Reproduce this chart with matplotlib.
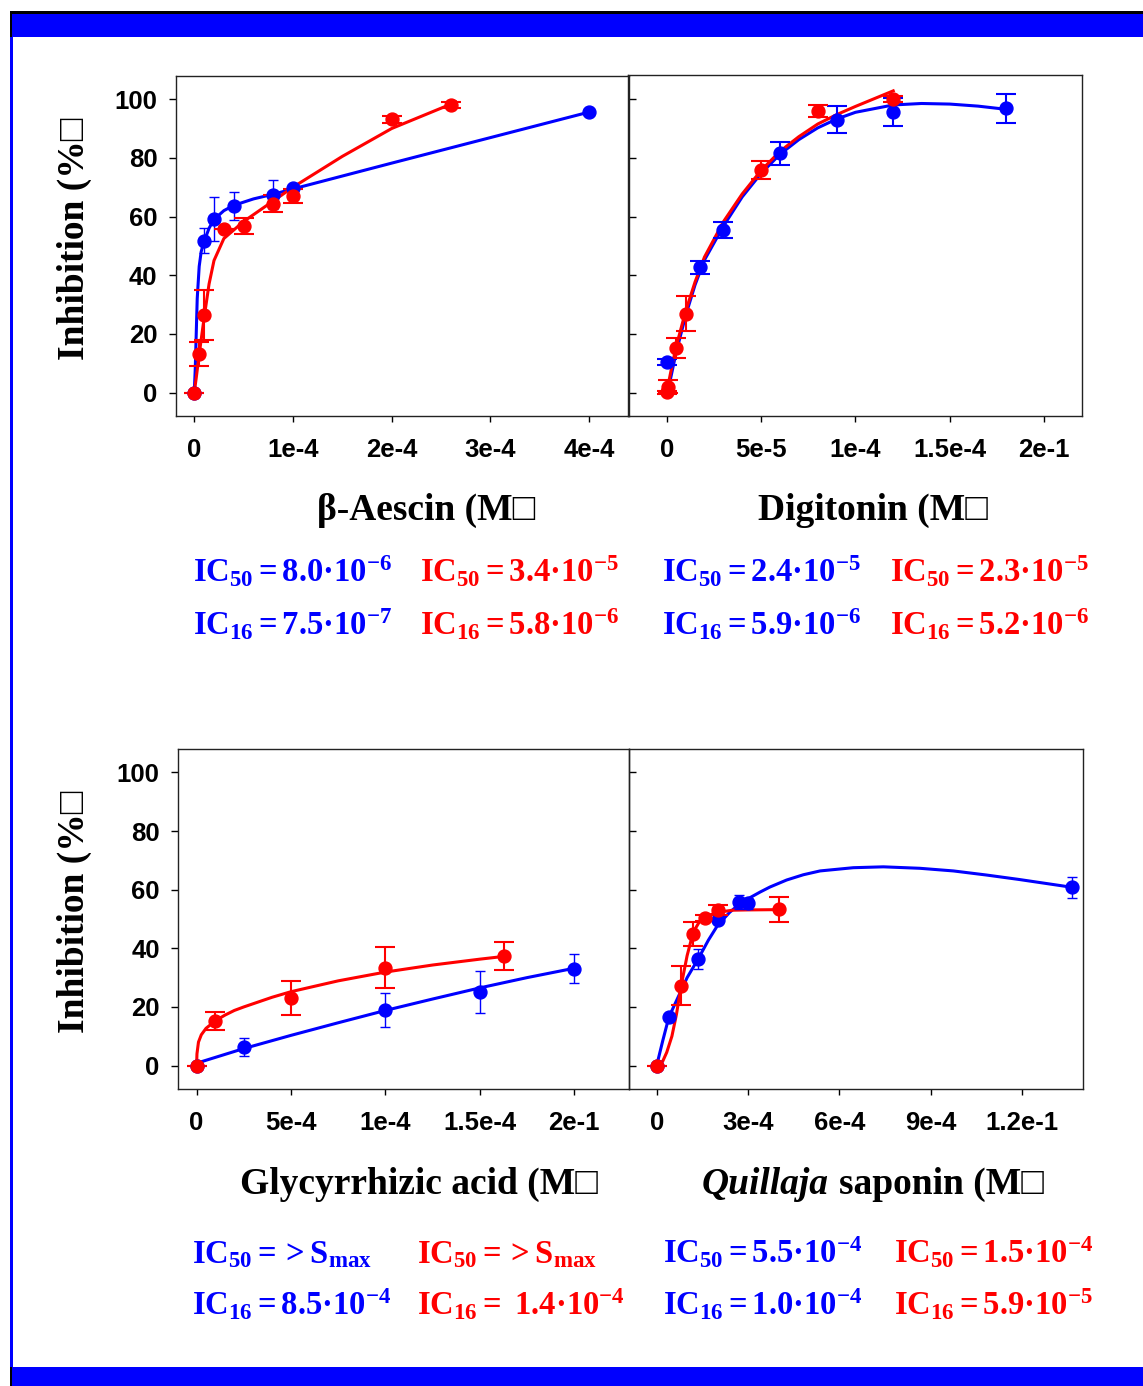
import matplotlib
matplotlib.use("Agg")
import matplotlib.pyplot as plt
from matplotlib.patches import Rectangle

plt.rcParams['mathtext.fontset'] = 'custom'
plt.rcParams['mathtext.rm'] = 'Liberation Serif:bold'
plt.rcParams['mathtext.it'] = 'Liberation Serif:italic:bold'
plt.rcParams['mathtext.bf'] = 'Liberation Serif:bold'
plt.rcParams['mathtext.default'] = 'rm'

BLUE = '#0000FF'
RED = '#FF0000'

# ---------------- data ----------------
# beta-Aescin
aes_blue_x = [0, 1e-5, 2e-5, 4e-5, 8e-5, 1e-4, 4e-4]
aes_blue_y = [0, 51.7, 59.3, 63.6, 67.5, 69.7, 95.6]
aes_blue_err = [0, 4.3, 7.5, 4.7, 4.8, 0, 0]
aes_red_x = [0, 5e-6, 1e-5, 3e-5, 5e-5, 8e-5, 1e-4, 2e-4, 2.6e-4]
aes_red_y = [0, 13.1, 26.3, 55.7, 56.7, 64.4, 66.9, 93.2, 97.9]
aes_red_err = [0, 4.0, 8.5, 0, 2.7, 2.9, 2.4, 1.2, 1.0]
aes_blue_fit_x = [0, 1e-6, 2e-6, 3e-6, 5e-6, 7e-6, 1e-5, 1.5e-5, 2e-5, 3e-5, 4e-5,
                  6e-5, 8e-5, 1e-4, 1.5e-4, 2e-4, 3e-4, 4e-4]
aes_blue_fit_y = [0, 8, 20, 32, 43, 48, 51.5, 56, 59, 62, 63.8,
                  66, 67.6, 69.4, 73.8, 78.2, 86.9, 95.6]
aes_red_fit_x = [0, 2e-6, 5e-6, 1e-5, 1.5e-5, 2e-5, 3e-5, 5e-5, 8e-5, 1e-4,
                 1.5e-4, 2e-4, 2.65e-4]
aes_red_fit_y = [0, 5, 13, 25.5, 37, 45, 52.5, 58.3, 65.3, 70,
                 80.5, 90, 99]

# Digitonin
dig_blue_x = [0, 1.75e-5, 3e-5, 6e-5, 9e-5, 1.2e-4, 1.8e-4]
dig_blue_y = [10.2, 42.6, 55.1, 81.3, 92.8, 95.5, 96.6]
dig_blue_err = [1.0, 2.2, 2.7, 4.0, 4.7, 4.8, 4.9]
dig_red_x = [0, 5e-7, 5e-6, 1e-5, 5e-5, 8e-5, 1.2e-4]
dig_red_y = [0, 1.9, 15.1, 26.7, 75.6, 95.8, 99.8]
dig_red_err = [0.5, 2.3, 3.4, 6.0, 3.0, 2.0, 0.9]
dig_blue_fit_x = [5e-7, 2.5e-6, 5e-6, 1e-5, 1.5e-5, 2e-5, 3e-5, 4e-5, 5e-5, 6e-5,
                  7e-5, 8e-5, 9e-5, 1e-4, 1.2e-4, 1.35e-4, 1.5e-4, 1.65e-4, 1.8e-4]
dig_blue_fit_y = [0, 6, 13.5, 26, 36.5, 45, 56.5, 66.5, 74.5, 81,
                  86, 90, 93, 95.3, 97.8, 98.3, 98.1, 97.4, 96.3]
dig_red_fit_x = [0, 2.5e-6, 5e-6, 1e-5, 1.5e-5, 2e-5, 3e-5, 4e-5, 5e-5, 6e-5,
                 7e-5, 8e-5, 9e-5, 1e-4, 1.2e-4]
dig_red_fit_y = [0, 8, 15.5, 27.5, 37.5, 46, 58, 67.5, 75.5, 82,
                 87, 91.3, 94.5, 97.3, 102.6]

# Glycyrrhizic acid
gly_blue_x = [0, 2.5e-4, 1e-3, 1.5e-3, 2e-3]
gly_blue_y = [0, 6.25, 19.0, 25.0, 33.1]
gly_blue_err = [0, 3.0, 5.8, 7.2, 4.8]
gly_red_x = [0, 1e-4, 5e-4, 1e-3, 1.63e-3]
gly_red_y = [0, 15.2, 23.0, 33.4, 37.4]
gly_red_err = [0, 3.1, 5.9, 7.1, 4.8]
gly_blue_fit_x = [0, 2.5e-4, 5e-4, 7.5e-4, 1e-3, 1.25e-3, 1.5e-3, 1.75e-3, 2e-3]
gly_blue_fit_y = [0.8, 5.8, 10.3, 14.6, 18.8, 22.7, 26.5, 30, 33.2]
gly_red_fit_x = [0, 2e-6, 1e-5, 2.5e-5, 5e-5, 1e-4, 1.5e-4, 2e-4, 2.5e-4, 3e-4,
                 4e-4, 5e-4, 7.5e-4, 1e-3, 1.25e-3, 1.5e-3, 1.65e-3]
gly_red_fit_y = [0, 4, 8, 10.5, 12.7, 15.3, 17.2, 18.8, 20.0, 21.1,
                 23.3, 25.2, 28.9, 31.9, 34.3, 36.3, 37.4]

# Quillaja saponin
qui_blue_x = [0, 4e-5, 1.37e-4, 2e-4, 2.7e-4, 3e-4, 1.366e-3]
qui_blue_y = [0, 16.5, 36.3, 49.7, 55.9, 55.3, 60.8]
qui_blue_err = [0, 0, 3.3, 1.5, 2.4, 2.0, 3.6]
qui_red_x = [0, 8e-5, 1.2e-4, 1.6e-4, 2e-4, 4.02e-4]
qui_red_y = [0, 27.2, 44.9, 50.2, 53.1, 53.3]
qui_red_err = [0, 6.6, 4.0, 1.0, 1.6, 4.3]
qui_blue_fit_x = [0, 2e-5, 4e-5, 8e-5, 1e-4, 1.37e-4, 1.7e-4, 2e-4, 2.4e-4, 2.7e-4,
                  3e-4, 3.4e-4, 3.72e-4, 4.27e-4, 4.82e-4, 5.37e-4, 6.46e-4, 7.45e-4,
                  8.65e-4, 9.75e-4, 1.084e-3, 1.19e-3, 1.366e-3]
qui_blue_fit_y = [0, 8.5, 16.5, 25.5, 30, 36.5, 42.8, 47.8, 52.3, 54.9,
                  56.9, 59.2, 60.9, 63.3, 65.1, 66.4, 67.5, 67.8,
                  67.3, 66.4, 65, 63.5, 60.8]
qui_red_fit_x = [0, 2e-5, 3.3e-5, 5e-5, 6.5e-5, 8e-5, 1e-4, 1.2e-4, 1.4e-4, 1.6e-4,
                 2e-4, 2.5e-4, 3e-4, 4.02e-4]
qui_red_fit_y = [0, 1.5, 4.5, 10, 17.5, 27, 37.5, 45.5, 49, 50.8,
                 52.3, 53, 53.1, 53.2]

# ticks
yticks = [0, 20, 40, 60, 80, 100]
aes_xticks = [0, 1e-4, 2e-4, 3e-4, 4e-4]
aes_xlabels = ['0', '1e-4', '2e-4', '3e-4', '4e-4']
dig_xticks = [0, 5e-5, 1e-4, 1.5e-4, 2e-4]
dig_xlabels = ['0', '5e-5', '1e-4', '1.5e-4', '2e-1']
gly_xticks = [0, 5e-4, 1e-3, 1.5e-3, 2e-3]
gly_xlabels = ['0', '5e-4', '1e-4', '1.5e-4', '2e-1']
qui_xticks = [0, 3e-4, 6e-4, 9e-4, 1.2e-3]
qui_xlabels = ['0', '3e-4', '6e-4', '9e-4', '1.2e-1']

# ---------------- figure ----------------
W, H = 1143, 1386
fig = plt.figure(figsize=(W / 100, H / 100), dpi=100)


def fx(px):
    return px / W


def fy(py):
    return 1 - py / H


def rect_px(x0, y0, x1, y1, color):
    fig.patches.append(Rectangle((fx(x0), fy(y1)), fx(x1) - fx(x0), fy(y0) - fy(y1),
                                 transform=fig.transFigure, facecolor=color,
                                 edgecolor='none', zorder=0))


# frame decorations
rect_px(10, 11, 1143, 13.5, 'black')
rect_px(12, 13.5, 1143, 37, BLUE)
rect_px(10, 11, 12, 37, 'black')
rect_px(10, 37, 13, 1367, BLUE)
rect_px(12, 1367, 1143, 1386, BLUE)
rect_px(10, 1367, 12, 1386, 'black')


def make_ax(l, r, t, b):
    return fig.add_axes([fx(l), fy(b), fx(r) - fx(l), fy(t) - fy(b)])


TICKFONT = dict(family='Liberation Sans', weight='bold', size=18.5)


def style_ax(ax, xlim, xticks, xlabels, left):
    ax.set_xlim(*xlim)
    ax.set_ylim(-8, 108)
    ax.set_xticks(xticks)
    ax.set_xticklabels(xlabels, fontdict=TICKFONT)
    for s in ax.spines.values():
        s.set_linewidth(1.0)
        s.set_color('#222222')
    ax.tick_params(axis='x', direction='out', length=4, width=1, pad=12)
    if left:
        ax.set_yticks(yticks)
        ax.set_yticklabels([str(v) for v in yticks], fontdict=TICKFONT)
        ax.tick_params(axis='y', which='both', left=True, right=True,
                       direction='out', length=5, width=1, pad=8)
        ax.tick_params(axis='y', right=True, direction='in', length=3)
        ax.tick_params(axis='y', left=True, direction='out', length=5)
    else:
        ax.set_yticks([])
    ax.patch.set_alpha(0)


def draw_series(ax, x, y, err, fx_, fy_, color, elw, cap):
    ax.plot(fx_, fy_, color=color, lw=2.2, zorder=3, solid_joinstyle='round')
    ax.errorbar(x, y, yerr=err, fmt='o', color=color, ms=9.3, mec=color,
                elinewidth=elw, capsize=cap, capthick=elw, zorder=4)


axTL = make_ax(175.5, 628.6, 75.7, 416)
axTR = make_ax(628, 1082, 75, 415.7)
axBL = make_ax(177.7, 629, 749, 1089)
axBR = make_ax(629.3, 1082.7, 749, 1089)

# top-left: beta-Aescin
draw_series(axTL, aes_blue_x, aes_blue_y, aes_blue_err, aes_blue_fit_x, aes_blue_fit_y,
            BLUE, 1.0, 3.6)
draw_series(axTL, aes_red_x, aes_red_y, aes_red_err, aes_red_fit_x, aes_red_fit_y,
            RED, 1.5, 7.2)
style_ax(axTL, (-1.9e-5, 4.4e-4), aes_xticks, aes_xlabels, True)

# top-right: Digitonin
draw_series(axTR, dig_blue_x, dig_blue_y, dig_blue_err, dig_blue_fit_x, dig_blue_fit_y,
            BLUE, 1.5, 7.2)
draw_series(axTR, dig_red_x, dig_red_y, dig_red_err, dig_red_fit_x, dig_red_fit_y,
            RED, 1.5, 7.2)
style_ax(axTR, (-2.05e-5, 2.2e-4), dig_xticks, dig_xlabels, False)

# bottom-left: Glycyrrhizic acid
draw_series(axBL, gly_blue_x, gly_blue_y, gly_blue_err, gly_blue_fit_x, gly_blue_fit_y,
            BLUE, 1.0, 3.6)
draw_series(axBL, gly_red_x, gly_red_y, gly_red_err, gly_red_fit_x, gly_red_fit_y,
            RED, 1.5, 7.2)
style_ax(axBL, (-1.0e-4, 2.29e-3), gly_xticks, gly_xlabels, True)

# bottom-right: Quillaja saponin
draw_series(axBR, qui_blue_x, qui_blue_y, qui_blue_err, qui_blue_fit_x, qui_blue_fit_y,
            BLUE, 1.0, 3.6)
draw_series(axBR, qui_red_x, qui_red_y, qui_red_err, qui_red_fit_x, qui_red_fit_y,
            RED, 1.5, 7.2)
style_ax(axBR, (-9e-5, 1.40e-3), qui_xticks, qui_xlabels, False)

# ---------------- texts ----------------
SERIF = ['Liberation Serif', 'DejaVu Serif']
TITLE = dict(family=SERIF, weight='bold', size=27)

# y labels
fig.text(fx(74), fy(239), 'Inhibition (%\u25a1', rotation=90, ha='center', va='center',
         transform=fig.transFigure, **TITLE)
fig.text(fx(74), fy(912), 'Inhibition (%\u25a1', rotation=90, ha='center', va='center',
         transform=fig.transFigure, **TITLE)

# x titles
fig.text(fx(317), fy(520), '\u03b2-Aescin (M\u25a1', ha='left', va='baseline', **TITLE)
fig.text(fx(758), fy(520), 'Digitonin (M\u25a1', ha='left', va='baseline', **TITLE)
fig.text(fx(240), fy(1194), 'Glycyrrhizic acid (M\u25a1', ha='left', va='baseline', **TITLE)
tq = fig.text(fx(702), fy(1194), 'Quillaja', ha='left', va='baseline', family=SERIF,
              weight='bold', style='italic', size=27)
renderer = fig.canvas.get_renderer()
bbq = tq.get_window_extent(renderer=renderer)
fig.text(fx(702 + bbq.width + 10), fy(1194), 'saponin (M\u25a1', ha='left', va='baseline',
         **TITLE)

# IC values
IC = dict(size=23.5, ha='left', va='baseline')
ic_texts = [
    (193, 582, r'$IC_{50} = 8.0·10^{-6}$', BLUE),
    (193, 635, r'$IC_{16} = 7.5·10^{-7}$', BLUE),
    (420, 582, r'$IC_{50} = 3.4·10^{-5}$', RED),
    (420, 635, r'$IC_{16} = 5.8·10^{-6}$', RED),
    (662, 582, r'$IC_{50} = 2.4·10^{-5}$', BLUE),
    (662, 635, r'$IC_{16} = 5.9·10^{-6}$', BLUE),
    (890, 582, r'$IC_{50} = 2.3·10^{-5}$', RED),
    (890, 635, r'$IC_{16} = 5.2·10^{-6}$', RED),
    (192, 1263, r'$IC_{50} = >S_{max}$', BLUE),
    (192, 1315, r'$IC_{16} = 8.5·10^{-4}$', BLUE),
    (417, 1263, r'$IC_{50} = >S_{max}$', RED),
    (417, 1315, r'$IC_{16} =\ 1.4·10^{-4}$', RED),
    (663, 1263, r'$IC_{50} = 5.5·10^{-4}$', BLUE),
    (663, 1315, r'$IC_{16} = 1.0·10^{-4}$', BLUE),
    (894, 1263, r'$IC_{50} = 1.5·10^{-4}$', RED),
    (894, 1315, r'$IC_{16} = 5.9·10^{-5}$', RED),
]
for x, y, s, c in ic_texts:
    fig.text(fx(x), fy(y), s, color=c, **IC)

fig.savefig('out.png', dpi=100)
